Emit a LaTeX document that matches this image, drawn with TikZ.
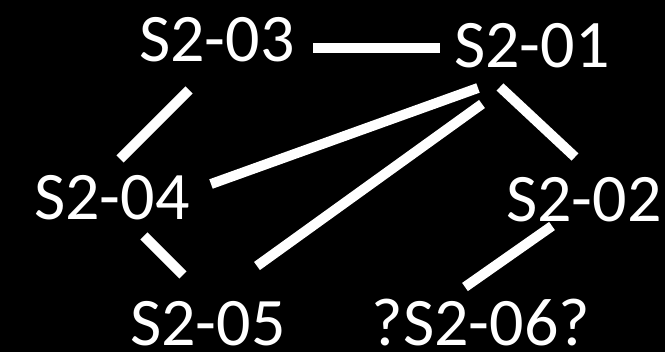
\documentclass[tikz,border=0pt]{standalone}
\usepackage{fontspec}
\setmainfont{Carlito}
\begin{document}
\begin{tikzpicture}[x=1pt,y=-1pt,
  lbl/.style={text=white,anchor=base,inner sep=0pt,font=\fontsize{68}{80}\selectfont},
  edge/.style={draw=white,line width=10pt}]
\fill[black] (0,0) rectangle (665,352);
\useasboundingbox (0,0) rectangle (665,352);
% nodes
\node[lbl] (s03) at (217,62) {S2-03};
\node[lbl] (s01) at (532,68) {S2-01};
\node[lbl] (s04) at (112,220) {S2-04};
\node[lbl] (s02) at (584,222) {S2-02};
\node[lbl] (s05) at (208,346) {S2-05};
\node[lbl] (s06) at (481,346) {?S2-06?};
% connector end points
\coordinate (e1a) at (313,48);  \coordinate (e1b) at (440,48);
\coordinate (e2a) at (189,90);  \coordinate (e2b) at (120,159);
\coordinate (e3a) at (478,88);  \coordinate (e3b) at (211,184);
\coordinate (e4a) at (482,104); \coordinate (e4b) at (257,266);
\coordinate (e5a) at (500,87);  \coordinate (e5b) at (575,157);
\coordinate (e6a) at (144,236); \coordinate (e6b) at (183,275);
\coordinate (e7a) at (552,226); \coordinate (e7b) at (465,287);
% connectors
\draw[edge] (e1a) -- (e1b);
\draw[edge] (e2a) -- (e2b);
\draw[edge] (e3a) -- (e3b);
\draw[edge] (e4a) -- (e4b);
\draw[edge] (e5a) -- (e5b);
\draw[edge] (e6a) -- (e6b);
\draw[edge] (e7a) -- (e7b);
\end{tikzpicture}
\end{document}
